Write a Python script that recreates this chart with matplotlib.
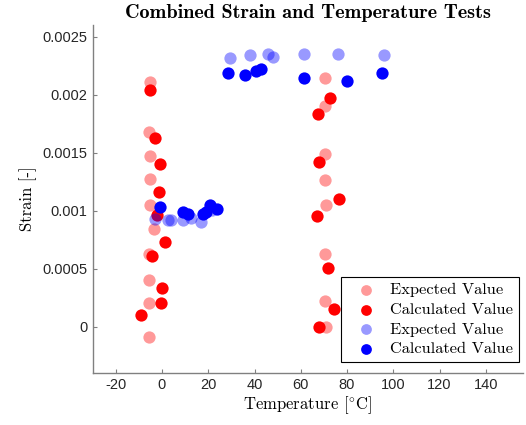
import matplotlib
matplotlib.use("Agg")
import matplotlib.pyplot as plt
from matplotlib.ticker import FuncFormatter

# strain test (red): temperature [C], strain [-]
red_exp_T = [-5.2, -5.5, -5.2, -5.1, -5.2, -3.5, -5.5, -5.5, -5.5, -5.6,
             70.5, 70.5, 70.5, 70.5, 70.9, 70.5, 70.5, 70.9]
red_exp_S = [0.00211, 0.00168, 0.00147, 0.00127, 0.00105, 0.000845, 0.00063, 0.000404, 0.000202, -0.000087,
             0.00214, 0.0019, 0.001485, 0.00126, 0.00105, 0.000626, 0.000219, -0.000005]
red_calc_T = [-5.2, -2.8, -0.9, -1.2, -2.3, 1.1, -4.4, 0.0, -0.5, -9.1,
              72.6, 67.3, 68.0, 76.4, 66.9, 71.6, 74.5, 67.9]
red_calc_S = [0.002036, 0.00163, 0.0014, 0.00116, 0.00096, 0.00073, 0.000608, 0.00033, 0.000202, 0.0001,
              0.00197, 0.001834, 0.00142, 0.0011, 0.00095, 0.000505, 0.000153, 0.0]

# temperature test (blue)
blue_exp_T = [29.3, 38.2, 45.8, 47.9, 61.4, 76.1, 95.9,
              -3.1, 2.7, 3.8, 9.1, 12.5, 16.8, 21.5]
blue_exp_S = [0.002313, 0.002344, 0.002353, 0.002327, 0.00235, 0.00235, 0.002342,
              0.000925, 0.000923, 0.000923, 0.000917, 0.000937, 0.000906, 0.001005]
blue_calc_T = [28.4, 35.9, 40.5, 43.0, 61.5, 80.2, 94.9,
               -0.9, 9.2, 11.3, 17.8, 18.9, 20.8, 23.7]
blue_calc_S = [0.002189, 0.002169, 0.002203, 0.00222, 0.002145, 0.002122, 0.002189,
               0.00103, 0.00099, 0.00097, 0.00097, 0.00099, 0.001045, 0.001018]

plt.rcParams["mathtext.fontset"] = "cm"
plt.rcParams["axes.unicode_minus"] = False
serif = "cmr10"

fig = plt.figure(figsize=(5.26, 4.25), dpi=100)
ax = fig.add_axes([0.176, 0.1224, 0.818, 0.8186])

ms = 78
ax.scatter(red_exp_T, red_exp_S, s=ms, color="red", alpha=0.4, lw=0, label="Expected Value")
ax.scatter(red_calc_T, red_calc_S, s=ms, color="red", lw=0, label="Calculated Value")
ax.scatter(blue_exp_T, blue_exp_S, s=ms, color="blue", alpha=0.4, lw=0, label="Expected Value")
ax.scatter(blue_calc_T, blue_calc_S, s=ms, color="blue", lw=0, label="Calculated Value")

ax.set_xlim(-30, 156)
ax.set_ylim(-0.0004, 0.0026)
ax.set_xticks(range(-20, 141, 20))
ax.set_yticks([0, 0.0005, 0.001, 0.0015, 0.002, 0.0025])
ax.yaxis.set_major_formatter(FuncFormatter(lambda v, p: f"{v:g}"))

for side in ["top", "right"]:
    ax.spines[side].set_visible(False)
for side in ["left", "bottom"]:
    ax.spines[side].set_color("#808080")
    ax.spines[side].set_linewidth(1.0)
ax.tick_params(direction="in", length=3, color="#808080", labelcolor="#262626",
               labelsize=10.5)
for lab in ax.get_xticklabels() + ax.get_yticklabels():
    lab.set_fontfamily("Liberation Sans")

ax.set_title("Combined Strain and Temperature Tests", family="cmb10", fontsize=14.5, pad=5)
ax.set_xlabel(r"Temperature [$^{\circ}$C]", family=serif, fontsize=12, labelpad=2)
ax.set_ylabel("Strain [-]", family=serif, fontsize=12, labelpad=4)

leg = ax.legend(loc="lower right", bbox_to_anchor=(519 / 526, 63 / 425),
                bbox_transform=fig.transFigure, borderaxespad=0,
                prop={"family": serif, "size": 11.8},
                frameon=True, fancybox=False, edgecolor="black", framealpha=1,
                handlelength=2.4, handletextpad=0.27, borderpad=0.35,
                labelspacing=0.32, scatterpoints=1)
leg.get_frame().set_linewidth(0.8)
for h in leg.legend_handles:
    h.set_sizes([60])

fig.savefig("out.png", dpi=100)
